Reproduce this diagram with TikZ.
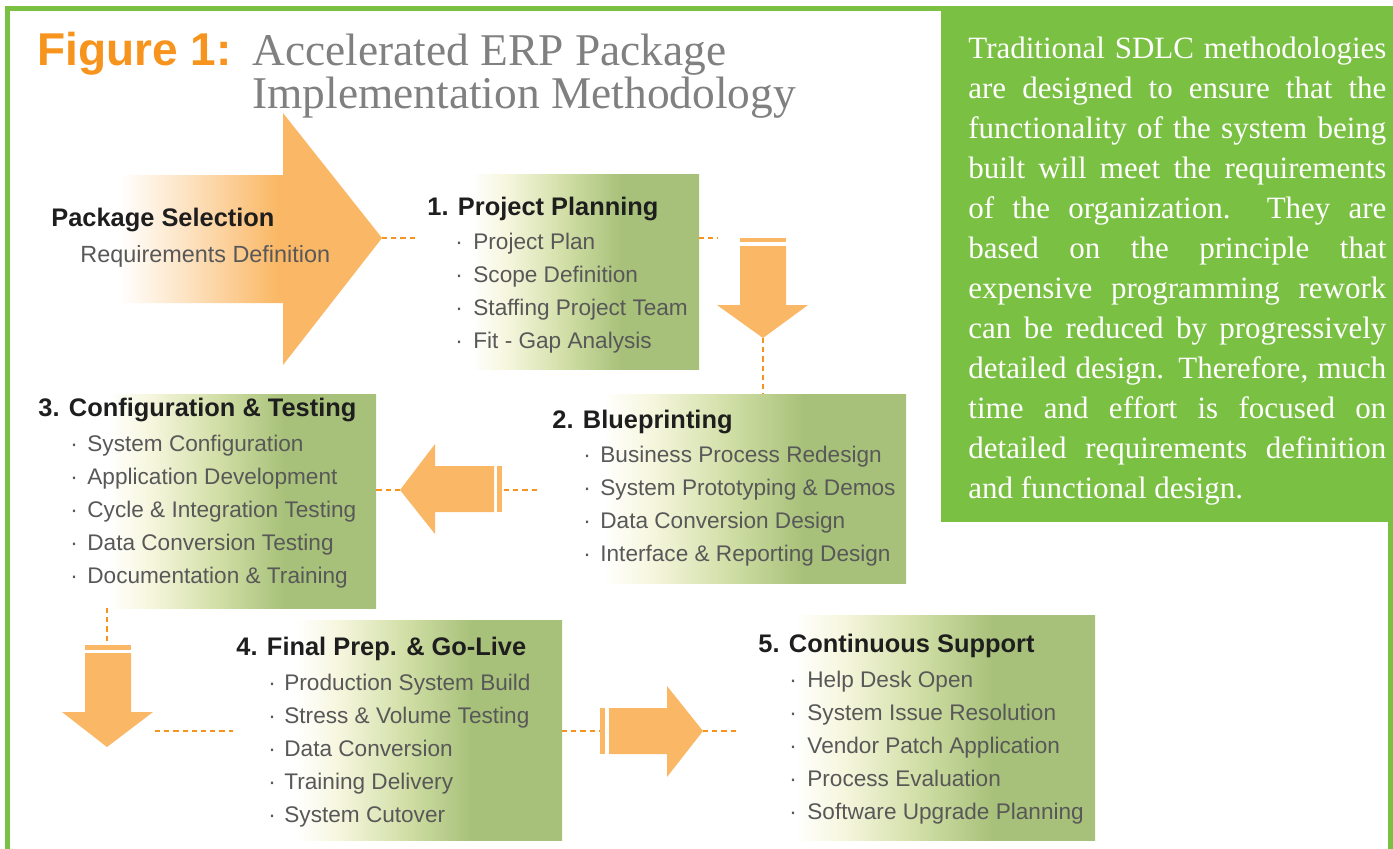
\documentclass[tikz,border=0pt]{standalone}
\usepackage{fontspec}
\setmainfont{Liberation Sans}
\newfontfamily\sidefont{Liberation Serif}
\newfontfamily\ttlserif{Liberation Serif}
\usetikzlibrary{calc}

\definecolor{frgreen}{RGB}{122,193,67}
\definecolor{boxgreen}{RGB}{168,193,122}
\definecolor{boxmid}{RGB}{208,222,165}
\definecolor{boxpale}{RGB}{246,246,222}
\definecolor{arrowor}{RGB}{250,184,102}
\definecolor{arrowpale}{RGB}{253,226,192}
\definecolor{dashor}{RGB}{247,148,29}
\definecolor{ttlgray}{RGB}{128,128,128}
\definecolor{itemgray}{RGB}{88,88,88}
\definecolor{ink}{RGB}{30,30,30}

\pgfdeclarehorizontalshading{boxfade}{100bp}{color(0bp)=(white); color(25bp)=(white); color(33bp)=(boxpale); color(46bp)=(boxmid); color(58bp)=(boxgreen); color(100bp)=(boxgreen)}
\pgfdeclarehorizontalshading{arrowfade}{100bp}{color(0bp)=(white); color(25bp)=(white); color(38bp)=(arrowpale); color(55bp)=(arrowor); color(100bp)=(arrowor)}

\begin{document}
\begin{tikzpicture}[x=0.5pt,y=-0.5pt,
  stagebox/.style={inner sep=0, outer sep=0, shade, shading=boxfade},
  ttl/.style={anchor=base west, inner sep=0, font=\fontsize{12.7pt}{15pt}\selectfont\bfseries, text=ink},
  itm/.style={anchor=base west, inner sep=0, font=\fontsize{11.3pt}{13pt}\selectfont, text=itemgray},
  conn/.style={draw=dashor, line width=1.3pt, dash pattern=on 2.6pt off 2pt},
  arr/.style={fill=arrowor, draw=none},
  barr/.style={fill=arrowor, draw=none}
]
\useasboundingbox (0,0) rectangle (1393,848);
\fill[white] (0,0) rectangle (1393,848);

% frame
\draw[frgreen, line width=2.5pt] (7.5,880) -- (7.5,8.5) -- (945,8.5);
\draw[frgreen, line width=2.5pt] (1390.5,515) -- (1390.5,880);

% side green box
\node[fill=frgreen, inner sep=0, minimum width=226pt, minimum height=258pt] (side) at (1167,264) {};
\node[anchor=base west, inner sep=0, text width=209pt, align=justify, text=white,
  font=\fontsize{15.5pt}{20pt}\selectfont\sidefont] (sidetext) at (968,58)
  {\hyphenpenalty=10000 Traditional SDLC methodologies\linebreak
   are designed to ensure that the\linebreak
   functionality of the system being\linebreak
   built will meet the requirements\linebreak
   of the organization.\ \ They are\linebreak
   based on the principle that\linebreak
   expensive programming rework\linebreak
   can be reduced by progressively\linebreak
   detailed design. Therefore, much\linebreak
   time and effort is focused on\linebreak
   detailed requirements definition\linebreak
   and functional design.};

% title
\node[anchor=base west, inner sep=0, text=dashor, font=\fontsize{23pt}{26pt}\selectfont\bfseries] (fig) at (37,65) {Figure 1:};
\node[anchor=base west, inner sep=0, text=ttlgray, font=\fontsize{22.7pt}{26pt}\selectfont\ttlserif] (ttl1) at (252,65) {Accelerated ERP Package};
\node[anchor=base west, inner sep=0, text=ttlgray, font=\fontsize{22.7pt}{26pt}\selectfont\ttlserif] (ttl2) at (252,108) {Implementation Methodology};

% stage boxes
\node[stagebox, minimum width=114.5pt, minimum height=97.5pt] (b1) at (584.5,271.5) {};
\node[stagebox, minimum width=151.5pt, minimum height=94.5pt] (b2) at (754.5,488.5) {};
\node[stagebox, minimum width=134.5pt, minimum height=107pt] (b3) at (241.5,501) {};
\node[stagebox, minimum width=133pt, minimum height=110pt] (b4) at (429,730) {};
\node[stagebox, minimum width=150pt, minimum height=112.5pt] (b5) at (945,727.5) {};

% package selection arrow
\shade[shading=arrowfade] (120,175) -- (283,175) -- (283,113) -- (382,238) -- (283,365) -- (283,303) -- (120,303) -- cycle;
\coordinate (a0tip) at (382,238);
\node[ttl] (ps) at (51,226) {Package Selection};
\node[anchor=base west, inner sep=0, font=\fontsize{11.7pt}{13pt}\selectfont, text=itemgray] (rd) at (80,262) {Requirements Definition};

% arrow 1 -> 2 (down)
\fill[barr] (740,238) rectangle (786,242);
\fill[arr] (740,246) -- (786,246) -- (786,305) -- (808,305) -- (763,338) -- (717,305) -- (740,305) -- cycle;
\coordinate (a1top) at (718,238);
\coordinate (a1tip) at (763,338);

% arrow 2 -> 3 (left)
\fill[barr] (497,466) rectangle (502,512);
\fill[arr] (494,466) -- (494,512) -- (435,512) -- (435,534) -- (400,490) -- (435,444) -- (435,466) -- cycle;
\coordinate (a2tail) at (504,490);
\coordinate (a2tip) at (400,490);

% arrow 3 -> 4 (down)
\fill[barr] (85,645) rectangle (131,650);
\fill[arr] (85,653) -- (131,653) -- (131,712) -- (153,712) -- (107,747) -- (62,712) -- (85,712) -- cycle;
\coordinate (a3top) at (107,643);
\coordinate (a3side) at (155,731);

% arrow 4 -> 5 (right)
\fill[barr] (600,708) rectangle (605,754);
\fill[arr] (609,708) -- (667,708) -- (667,686) -- (703,731) -- (667,777) -- (667,754) -- (609,754) -- cycle;
\coordinate (a4tail) at (600,731);
\coordinate (a4tip) at (703,731);

% connectors
\coordinate (c0) at (416,238);
\coordinate (c2) at (540,490);
\coordinate (c4) at (233,731);
\coordinate (c5) at (736,731);
\draw[conn] (a0tip) -- (c0);
\draw[conn] (b1.east |- a1top) -- (a1top);
\draw[conn] (a1tip) -- (a1tip |- b2.north);
\draw[conn] (a2tail) -- (c2);
\draw[conn] (a2tip) -- (b3.east |- a2tip);
\draw[conn] (b3.south -| a3top) -- (a3top);
\draw[conn] (a3side) -- (c4);
\draw[conn] (b4.east |- a4tail) -- (a4tail);
\draw[conn] (a4tip) -- (c5);

% box 1 text
\node[ttl] (t1) at (427,215) {1. Project Planning};
\foreach \t [count=\i from 0] in {Project Plan, Scope Definition, Staffing Project Team, Fit - Gap Analysis}
  \node[itm] (i1\i) at (455,249+33*\i) {\makebox[9pt][l]{·}\t};

% box 2 text
\node[ttl] (t2) at (552,428) {2. Blueprinting};
\foreach \t [count=\i from 0] in {Business Process Redesign, System Prototyping \& Demos, Data Conversion Design, Interface \& Reporting Design}
  \node[itm] (i2\i) at (583,462+33.3*\i) {\makebox[8.5pt][l]{·}\t};

% box 3 text
\node[ttl] (t3) at (38,416) {3. Configuration \& Testing};
\foreach \t [count=\i from 0] in {System Configuration, Application Development, Cycle \& Integration Testing, Data Conversion Testing, Documentation \& Training}
  \node[itm] (i3\i) at (70,451+33*\i) {\makebox[8.5pt][l]{·}\t};

% box 4 text
\node[ttl] (t4) at (236,655) {4. Final Prep. \& Go-Live};
\foreach \t [count=\i from 0] in {Production System Build, Stress \& Volume Testing, Data Conversion, Training Delivery, System Cutover}
  \node[itm] (i4\i) at (268,690+33*\i) {\makebox[8pt][l]{·}\t};

% box 5 text
\node[ttl] (t5) at (758,652) {5. Continuous Support};
\foreach \t [count=\i from 0] in {Help Desk Open, System Issue Resolution, Vendor Patch Application, Process Evaluation, Software Upgrade Planning}
  \node[itm] (i5\i) at (789,687+33*\i) {\makebox[9pt][l]{·}\t};
\end{tikzpicture}
\end{document}
